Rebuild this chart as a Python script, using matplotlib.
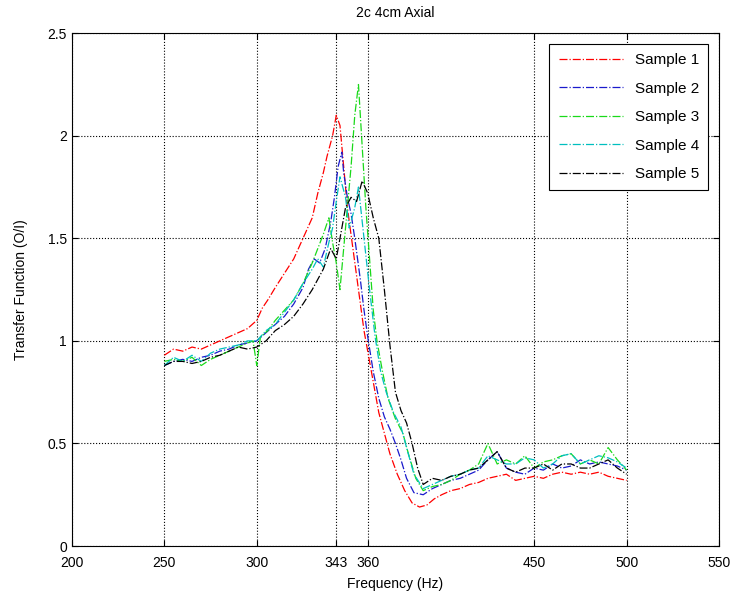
import numpy as np
import matplotlib.pyplot as plt

plt.rcParams['font.family'] = ['Liberation Sans', 'DejaVu Sans']

# Sample 1 (red)
f1 = [250, 255, 260, 265, 270, 275, 280, 285, 290, 295, 300, 303, 306, 310, 315, 320,
      325, 330, 333, 336, 338, 341, 343, 345, 347, 349, 352, 355, 358, 360, 363, 366,
      369, 372, 376, 380, 384, 388, 392, 396, 400, 405, 410, 415, 420, 425, 430, 435,
      440, 445, 450, 455, 460, 465, 470, 475, 480, 485, 490, 495, 500]
s1 = [0.93, 0.96, 0.95, 0.97, 0.96, 0.98, 1.00, 1.02, 1.04, 1.06, 1.10, 1.16, 1.20, 1.26, 1.33, 1.40,
      1.50, 1.60, 1.72, 1.82, 1.90, 2.00, 2.10, 2.05, 1.85, 1.65, 1.45, 1.25, 1.05, 0.95, 0.80, 0.65,
      0.55, 0.45, 0.35, 0.27, 0.21, 0.19, 0.20, 0.23, 0.25, 0.27, 0.28, 0.30, 0.31, 0.33, 0.34, 0.35,
      0.32, 0.33, 0.34, 0.33, 0.35, 0.36, 0.35, 0.36, 0.35, 0.36, 0.34, 0.33, 0.32]

# Sample 2 (blue)
f2 = [250, 255, 260, 265, 270, 275, 280, 285, 290, 295, 300, 305, 310, 315, 320, 325,
      328, 331, 334, 337, 340, 342, 344, 346, 347, 349, 351, 353, 356, 358, 360, 363,
      366, 369, 372, 375, 378, 381, 385, 390, 395, 400, 405, 410, 415, 420, 425, 430,
      435, 440, 445, 450, 455, 460, 465, 470, 475, 480, 485, 490, 495, 500]
s2 = [0.88, 0.90, 0.91, 0.90, 0.92, 0.93, 0.95, 0.96, 0.98, 0.99, 1.00, 1.04, 1.08, 1.12, 1.18, 1.26,
      1.35, 1.40, 1.38, 1.45, 1.58, 1.70, 1.85, 1.92, 1.82, 1.70, 1.62, 1.50, 1.30, 1.15, 1.02, 0.85,
      0.72, 0.63, 0.57, 0.50, 0.42, 0.33, 0.26, 0.25, 0.28, 0.30, 0.32, 0.33, 0.35, 0.37, 0.42, 0.46,
      0.38, 0.36, 0.35, 0.38, 0.37, 0.40, 0.38, 0.39, 0.42, 0.40, 0.41, 0.40, 0.39, 0.37]

# Sample 3 (green)
f3 = [250, 255, 260, 265, 270, 275, 280, 285, 290, 295, 298, 300, 302, 306, 310, 315,
      320, 325, 330, 333, 336, 339, 341, 343, 345, 347, 349, 351, 353, 355, 357, 359,
      361, 363, 365, 368, 371, 375, 379, 382, 386, 390, 395, 400, 405, 410, 415, 420,
      425, 430, 435, 440, 445, 450, 455, 460, 465, 470, 475, 480, 485, 490, 495, 500]
s3 = [0.90, 0.91, 0.90, 0.92, 0.88, 0.91, 0.93, 0.95, 0.97, 0.99, 1.00, 0.88, 1.02, 1.05, 1.10, 1.15,
      1.20, 1.28, 1.38, 1.45, 1.52, 1.60, 1.48, 1.38, 1.25, 1.45, 1.65, 1.85, 2.10, 2.25, 1.95, 1.65,
      1.40, 1.15, 1.00, 0.85, 0.72, 0.62, 0.55, 0.45, 0.33, 0.27, 0.29, 0.30, 0.32, 0.35, 0.37, 0.40,
      0.50, 0.40, 0.42, 0.40, 0.44, 0.38, 0.41, 0.42, 0.44, 0.45, 0.40, 0.42, 0.40, 0.48, 0.42, 0.37]

# Sample 4 (cyan)
f4 = [250, 255, 260, 265, 270, 275, 280, 285, 290, 295, 300, 305, 310, 315, 320, 325,
      330, 333, 336, 339, 341, 343, 345, 348, 350, 353, 355, 358, 361, 364, 367, 370,
      374, 378, 381, 385, 390, 395, 400, 405, 410, 415, 420, 425, 430, 435, 440, 445,
      450, 455, 460, 465, 470, 475, 480, 485, 490, 495, 500]
s4 = [0.88, 0.92, 0.90, 0.93, 0.90, 0.94, 0.96, 0.97, 0.98, 1.00, 1.00, 1.05, 1.08, 1.14, 1.20, 1.28,
      1.35, 1.40, 1.36, 1.48, 1.55, 1.68, 1.80, 1.70, 1.55, 1.65, 1.75, 1.50, 1.25, 1.02, 0.85, 0.75,
      0.65, 0.58, 0.48, 0.35, 0.28, 0.30, 0.32, 0.34, 0.35, 0.37, 0.38, 0.44, 0.42, 0.40, 0.40, 0.43,
      0.42, 0.38, 0.40, 0.44, 0.45, 0.40, 0.42, 0.44, 0.43, 0.41, 0.38]

# Sample 5 (black)
f5 = [250, 255, 260, 265, 270, 275, 280, 285, 290, 295, 300, 305, 310, 315, 320, 325,
      330, 333, 336, 340, 343, 345, 348, 351, 354, 357, 360, 363, 366, 369, 372, 375,
      378, 381, 384, 387, 390, 395, 400, 405, 410, 415, 420, 425, 430, 435, 440, 445,
      450, 455, 460, 465, 470, 475, 480, 485, 490, 495, 500]
s5 = [0.88, 0.90, 0.90, 0.89, 0.90, 0.92, 0.93, 0.95, 0.97, 0.96, 0.97, 1.00, 1.05, 1.08, 1.12, 1.18,
      1.25, 1.30, 1.35, 1.45, 1.40, 1.50, 1.65, 1.70, 1.68, 1.78, 1.72, 1.60, 1.50, 1.25, 0.98, 0.75,
      0.66, 0.60, 0.50, 0.38, 0.30, 0.33, 0.32, 0.34, 0.35, 0.37, 0.38, 0.42, 0.46, 0.38, 0.36, 0.38,
      0.38, 0.40, 0.37, 0.40, 0.40, 0.38, 0.38, 0.40, 0.42, 0.38, 0.35]

xticks = [200, 250, 300, 343, 360, 450, 500, 550]

fig = plt.figure(figsize=(7.33, 6.04), dpi=100)
ax = fig.add_axes([0.098, 0.096, 0.883, 0.849])

ax.plot(f1, s1, '-.', color='r', lw=0.9, label='Sample 1')
ax.plot(f2, s2, '-.', color=(0.1, 0.1, 0.8), lw=0.9, label='Sample 2')
ax.plot(f3, s3, '-.', color=(0.1, 0.85, 0.1), lw=0.9, label='Sample 3')
ax.plot(f4, s4, '-.', color='c', lw=0.9, label='Sample 4')
ax.plot(f5, s5, '-.', color='k', lw=0.9, label='Sample 5')

ax.set_xlim(200, 550)
ax.set_ylim(0, 2.5)
ax.set_xticks(xticks)
ax.set_yticks([0, 0.5, 1, 1.5, 2, 2.5])
ax.set_yticklabels(['0', '0.5', '1', '1.5', '2', '2.5'])
ax.tick_params(direction='in', labelsize=10, length=4, top=True, right=True)
ax.tick_params(axis='x', pad=7)
ax.grid(True, linestyle=':', color='k', lw=0.8)
ax.set_title('2c 4cm Axial', fontsize=10, pad=12)
ax.set_xlabel('Frequency (Hz)', fontsize=10, labelpad=5)
ax.set_ylabel('Transfer Function (O/I)', fontsize=10, labelpad=14)

leg = ax.legend(loc='upper right', fontsize=11, fancybox=False, framealpha=1,
                edgecolor='k', handlelength=4.2, labelspacing=0.95,
                borderaxespad=0.7, borderpad=0.6)
leg.get_frame().set_linewidth(0.8)

fig.savefig('out.png', dpi=100)
